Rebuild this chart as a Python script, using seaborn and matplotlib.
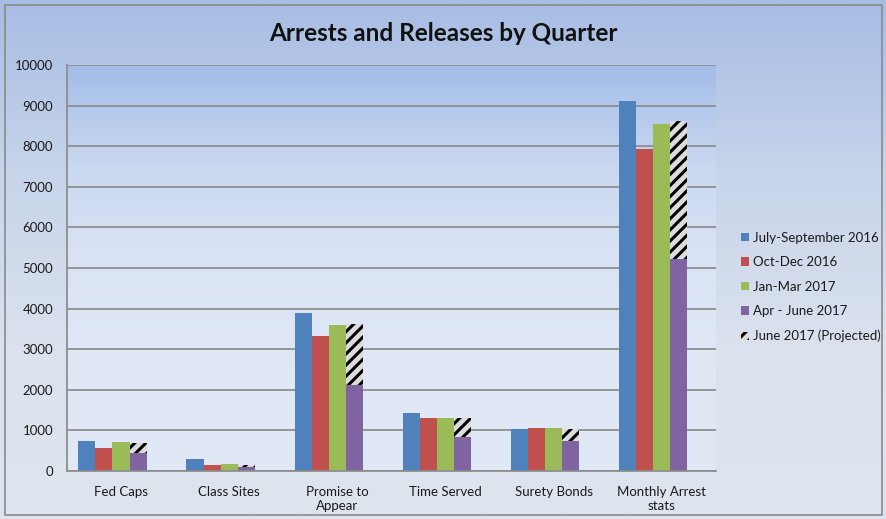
import numpy as np
import pandas as pd
import matplotlib.pyplot as plt
import matplotlib.colors as mcolors
from matplotlib.patches import Patch, Rectangle
import seaborn as sns

# values
categories = ['Fed Caps', 'Class Sites', 'Promise to\nAppear', 'Time Served',
              'Surety Bonds', 'Monthly Arrest\nstats']
jul_sep_2016 = [740, 300, 3890, 1430, 1035, 9110]
oct_dec_2016 = [570, 150, 3325, 1310, 1060, 7930]
jan_mar_2017 = [715, 180, 3600, 1310, 1060, 8550]
apr_jun_2017 = [440, 100, 2120, 830, 740, 5220]
jun_2017_projected = [690, 150, 3620, 1310, 1035, 8620]

series_names = ['July-September 2016', 'Oct-Dec 2016', 'Jan-Mar 2017', 'Apr - June 2017']
series_vals = [jul_sep_2016, oct_dec_2016, jan_mar_2017, apr_jun_2017]
colors = ['#4F81BD', '#C0504D', '#9BBB59', '#8064A2']

rows = []
for name, vals in zip(series_names, series_vals):
    for cat, v in zip(categories, vals):
        rows.append({'category': cat, 'series': name, 'value': v})
# empty fifth slot so groups sit like the Excel original
for cat in categories:
    rows.append({'category': cat, 'series': 'spacer', 'value': 0})
df = pd.DataFrame(rows)

sns.set_style('white')
plt.rcParams['font.family'] = ['Lato', 'DejaVu Sans']
plt.rcParams['hatch.linewidth'] = 2.2

fig = plt.figure(figsize=(8.87, 5.19), dpi=100)

# figure background gradient
bg = fig.add_axes([0, 0, 1, 1], zorder=-2)
fig_cmap = mcolors.LinearSegmentedColormap.from_list('figbg', ['#a7bde4', '#c7d4ea', '#dbe2ee', '#dfe5ef'])
bg.imshow(np.linspace(0, 1, 256).reshape(-1, 1), cmap=fig_cmap, aspect='auto', extent=[0, 1, 0, 1])
bg.set_axis_off()
fig.add_artist(Rectangle((0.006, 0.008), 0.988, 0.983, transform=fig.transFigure,
                         fill=False, edgecolor='#8a8a8a', lw=1.2))

pos = [0.0755, 0.0925, 0.7315, 0.782]
plot_bg = fig.add_axes(pos, zorder=-1)
plot_cmap = mcolors.LinearSegmentedColormap.from_list('plotbg', ['#a3bde8', '#cad8f0', '#dbe4f5', '#e0e8f6', '#e2e9f5'])
plot_bg.imshow(np.linspace(0, 1, 256).reshape(-1, 1), cmap=plot_cmap, aspect='auto', extent=[0, 1, 0, 1])
plot_bg.set_axis_off()

ax = fig.add_axes(pos)
ax.set_facecolor('none')
sns.barplot(data=df, x='category', y='value', hue='series',
            hue_order=series_names + ['spacer'],
            palette=colors + ['#ffffff'], width=0.79, linewidth=0,
            saturation=1, errorbar=None, legend=False, ax=ax)

# projected segment stacked on top of the Apr-June bars
purple = [p for p in ax.patches if mcolors.to_hex(p.get_facecolor()) == '#8064a2']
purple.sort(key=lambda p: p.get_x())
for p, total, base in zip(purple, jun_2017_projected, apr_jun_2017):
    ax.bar(p.get_x() + p.get_width() / 2, total - base, bottom=base, width=p.get_width(),
           facecolor='#dcdcdc', edgecolor='black', hatch='///', linewidth=0)

ax.set_xlim(-0.5, len(categories) - 0.5)
ax.set_ylim(0, 10000)
ax.set_yticks(range(0, 10001, 1000))
ax.set_axisbelow(True)
ax.yaxis.grid(True, color='#8e8e8e', linewidth=1.3)
for side in ['top', 'right']:
    ax.spines[side].set_visible(False)
for side in ['left', 'bottom']:
    ax.spines[side].set_color('#8e8e8e')
    ax.spines[side].set_linewidth(1.3)
ax.tick_params(axis='both', length=0, labelsize=9.5, colors='#1a1a1a')
ax.tick_params(axis='y', pad=10)
ax.tick_params(axis='x', pad=11)
ax.set_xlabel('')
ax.set_ylabel('')

fig.text(0.5, 0.935, 'Arrests and Releases by Quarter', ha='center', va='center',
         fontsize=17.5, fontweight='bold', color='#111111')

handles = [Patch(facecolor=c, edgecolor='none', label=n) for c, n in zip(colors, series_names)]
handles.append(Patch(facecolor='#dcdcdc', edgecolor='black', hatch='///', linewidth=0,
                     label='June 2017 (Projected)'))
fig.legend(handles=handles, loc='center left', bbox_to_anchor=(0.822, 0.447),
           frameon=False, fontsize=9.5, handlelength=0.6, handleheight=0.6,
           handletextpad=0.3, labelspacing=0.95, labelcolor='#1a1a1a')

fig.savefig('out.png', dpi=100)
